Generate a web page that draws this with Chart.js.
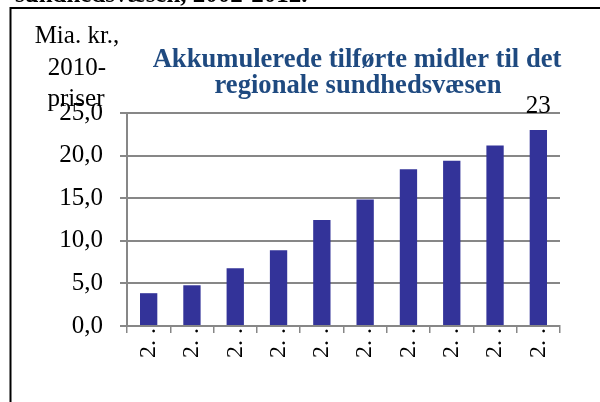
<!DOCTYPE html>
<html>
<head>
<meta charset="utf-8">
<script src="https://cdn.jsdelivr.net/npm/chart.js@4/dist/chart.umd.min.js"></script>
<style>
  html, body { margin: 0; padding: 0; background: #fff; }
  #wrap { position: relative; width: 600px; height: 402px; }
  canvas { display: block; }
</style>
</head>
<body>
<div id="wrap"><canvas id="c" width="600" height="402"></canvas></div>
<script>
// ---- data ----
const categories = ['2003', '2004', '2005', '2006', '2007', '2008', '2009', '2010', '2011', '2012'];
const xTickLabels = ['2. .', '2. .', '2. .', '2. .', '2. .', '2. .', '2. .', '2. .', '2. .', '2. .'];
const values = [3.85, 4.78, 6.78, 8.9, 12.43, 14.86, 18.4, 19.4, 21.2, 23.0];
const yTicks = [0, 5, 10, 15, 20, 25];
const titleLines = ['Akkumulerede tilførte midler til det', 'regionale sundhedsvæsen'];
const yTitleLines = ['Mia. kr.,', '2010-', 'priser'];
const topCutText = 'sundhedsvæsen, 2002-2012.';
const labelledIndex = 9;

const SERIF = '"Liberation Serif", "Times New Roman", serif';
const GRID = '#878787';

const decor = {
  id: 'decor',
  afterDraw(chart) {
    const ctx = chart.ctx;
    ctx.save();
    // outer frame (left and top edges)
    ctx.strokeStyle = '#000';
    ctx.lineWidth = 2;
    ctx.beginPath();
    ctx.moveTo(10.5, 410);
    ctx.lineTo(10.5, 8);
    ctx.lineTo(610, 8);
    ctx.stroke();

    // cut-off caption text at the very top
    ctx.fillStyle = '#000';
    ctx.font = 'bold 25px ' + SERIF;
    ctx.textAlign = 'left';
    ctx.textBaseline = 'alphabetic';
    ctx.fillText(topCutText, 15, 2);

    // title
    ctx.fillStyle = '#1F4A80';
    ctx.font = 'bold 26.6px ' + SERIF;
    ctx.textAlign = 'center';
    ctx.fillText(titleLines[0], 357, 67);
    ctx.fillText(titleLines[1], 358, 93);

    // y-axis title
    ctx.fillStyle = '#000';
    ctx.font = '25px ' + SERIF;
    ctx.fillText(yTitleLines[0], 77, 43);
    ctx.fillText(yTitleLines[1], 77, 75);
    ctx.fillText(yTitleLines[2], 76, 106);

    // data label on the last bar
    const meta = chart.getDatasetMeta(0);
    const bar = meta.data[labelledIndex];
    ctx.font = '25px ' + SERIF;
    ctx.fillText(String(Math.round(values[labelledIndex])), bar.x, bar.y - 17);
    ctx.restore();
  }
};

new Chart(document.getElementById('c'), {
  type: 'bar',
  data: {
    labels: categories,
    datasets: [{
      data: values,
      backgroundColor: '#333399',
      borderWidth: 0,
      barPercentage: 0.4,
      categoryPercentage: 1.0
    }]
  },
  options: {
    responsive: false,
    animation: false,
    devicePixelRatio: 1,
    layout: { padding: { top: 113, right: 40, left: 0, bottom: 0 } },
    plugins: {
      legend: { display: false },
      title: { display: false },
      tooltip: { enabled: false }
    },
    scales: {
      x: {
        afterFit(s) { s.height = 76; },
        grid: {
          display: true,
          offset: true,
          drawOnChartArea: false,
          drawTicks: true,
          tickLength: 7,
          color: GRID,
          lineWidth: 1.5
        },
        border: { display: true, color: GRID, width: 2 },
        ticks: {
          autoSkip: false,
          minRotation: 90,
          maxRotation: 90,
          padding: -5,
          color: '#000',
          font: { family: SERIF, size: 24 },
          callback: (v, i) => xTickLabels[i]
        }
      },
      y: {
        min: 0,
        max: 25,
        afterFit(s) { s.width = 127; },
        afterBuildTicks(s) { s.ticks = yTicks.map(v => ({ value: v })); },
        grid: {
          color: GRID,
          lineWidth: 2,
          tickLength: 7,
          drawTicks: true
        },
        border: { display: true, color: GRID, width: 2 },
        ticks: {
          padding: 17,
          color: '#000',
          font: { family: SERIF, size: 25 },
          callback: v => Number(v).toFixed(1).replace('.', ',')
        }
      }
    }
  },
  plugins: [decor]
});
</script>
</body>
</html>
